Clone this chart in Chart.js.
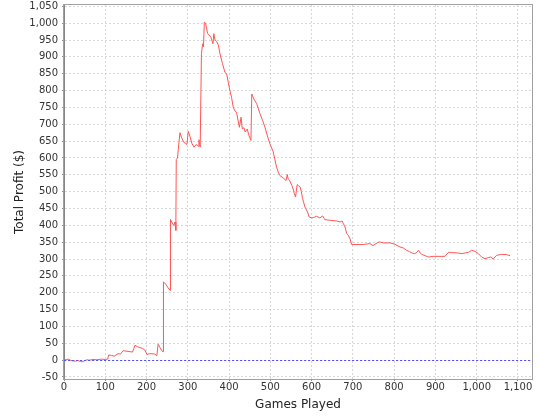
<!DOCTYPE html>
<html>
<head>
<meta charset="utf-8">
<script src="https://cdn.jsdelivr.net/npm/chart.js@4.4.1/dist/chart.umd.min.js"></script>
<style>
  html, body { margin: 0; padding: 0; background: #fff; }
  #wrap { width: 540px; height: 420px; }
</style>
</head>
<body>
<div id="wrap"><canvas id="myChart" width="540" height="420"></canvas></div>
<script>
// games played (x) and running profit (y)
const games = [
  0, 5, 10, 15, 20, 28, 33, 40, 44, 50, 55, 62, 70, 80, 90, 100, 106, 108, 115, 122,
  131, 137, 143, 150, 160, 166, 172, 178, 184, 190, 196, 201, 207, 213, 220, 225, 228, 233, 237, 240,
  241, 247, 252, 257, 258, 262, 266, 269, 271, 272, 275, 278, 281, 285, 290, 295, 298, 301, 305, 310,
  315, 320, 325, 327, 330, 333, 336, 338, 340, 343, 348, 352, 356, 361, 363, 366, 370, 374, 378, 384,
  390, 394, 398, 402, 406, 410, 414, 418, 422, 425, 429, 432, 436, 439, 444, 448, 453, 455, 460, 467,
  475, 481, 487, 493, 499, 507, 511, 515, 519, 523, 531, 538, 541, 543, 546, 552, 556, 558, 561, 565,
  568, 572, 575, 578, 584, 590, 594, 600, 604, 612, 620, 627, 632, 645, 661, 669, 674, 677, 681, 685,
  689, 693, 697, 710, 725, 735, 741, 749, 756, 764, 774, 790, 802, 814, 822, 830, 837, 843, 850, 855,
  859, 863, 867, 875, 883, 895, 911, 923, 931, 943, 955, 964, 972, 980, 988, 996, 1004, 1012, 1020, 1028,
  1034, 1040, 1048, 1060, 1073, 1081
];
const profit = [
  2, 1, 3, 0, -2, -3, -1, -4, -5, -2, 1, 0, 2, 1, 3, 2, 3, 15, 14, 12,
  19, 18, 28, 27, 25, 24, 44, 40, 37, 35, 30, 17, 19, 19, 18, 13, 47, 37, 28, 25,
  232, 225, 215, 207, 418, 407, 400, 410, 385, 595, 600, 640, 675, 660, 647, 643, 640, 679, 665, 643,
  632, 640, 635, 654, 632, 910, 939, 930, 1003, 1000, 969, 965, 958, 939, 969, 950, 946, 935, 909, 880,
  854, 850, 825, 800, 780, 751, 740, 736, 710, 691, 721, 686, 690, 677, 686, 667, 652, 790, 775, 761,
  731, 712, 691, 665, 642, 618, 595, 573, 558, 548, 541, 533, 551, 538, 535, 519, 505, 494, 484, 521,
  518, 514, 500, 480, 454, 440, 425, 422, 423, 427, 422, 428, 417, 415, 413, 410, 413, 405, 395, 375,
  370, 360, 343, 343, 343, 345, 346, 340, 346, 351, 348, 348, 344, 336, 333, 326, 322, 318, 316, 320,
  326, 318, 314, 310, 306, 308, 308, 308, 319, 319, 318, 316, 318, 320, 326, 323, 316, 306, 301, 304,
  306, 300, 311, 314, 313, 310
];
const breakEven = 0;

// tick values shown on the axes
const xTicks = [0, 100, 200, 300, 400, 500, 600, 700, 800, 900, 1000, 1100];
const yTicks = [-50, 0, 50, 100, 150, 200, 250, 300, 350, 400, 450, 500,
  550, 600, 650, 700, 750, 800, 850, 900, 950, 1000, 1050];

const tickFont = { family: 'DejaVu Sans', size: 10 };
const titleFont = { family: 'DejaVu Sans', size: 12 };

// blue dashed break-even marker plus the grey outline round the plot
const plotExtras = {
  id: 'plotExtras',
  afterDatasetsDraw(chart) {
    const { ctx, chartArea: a, scales } = chart;
    const y0 = Math.round(scales.y.getPixelForValue(breakEven)) + 0.5;
    ctx.save();
    ctx.strokeStyle = '#5555ff';
    ctx.lineWidth = 1;
    ctx.setLineDash([2, 2]);
    ctx.beginPath();
    ctx.moveTo(a.left, y0);
    ctx.lineTo(a.right, y0);
    ctx.stroke();
    ctx.setLineDash([]);
    ctx.strokeStyle = '#a0a0a0';
    ctx.strokeRect(a.left - 0.5, a.top - 0.5, a.right - a.left + 1, a.bottom - a.top + 1);
    ctx.restore();
  }
};

const ctx = document.getElementById('myChart').getContext('2d');
new Chart(ctx, {
  type: 'line',
  data: {
    datasets: [{
      label: 'Total Profit',
      data: games.map((g, i) => ({ x: g, y: profit[i] })),
      borderColor: '#ff5555',
      borderWidth: 1,
      pointRadius: 0,
      tension: 0,
      fill: false
    }]
  },
  options: {
    responsive: false,
    animation: false,
    layout: { padding: { top: 5, right: 8, left: 0, bottom: 0 } },
    plugins: { legend: { display: false }, tooltip: { enabled: false } },
    scales: {
      x: {
        type: 'linear',
        min: 0,
        max: 1134,
        afterBuildTicks: s => { s.ticks = xTicks.map(v => ({ value: v })); },
        afterFit: s => { s.height = 41; },
        ticks: {
          autoSkip: false,
          maxRotation: 0,
          color: '#333',
          font: tickFont,
          padding: 0,
          callback: v => v.toLocaleString('en-US')
        },
        grid: { color: '#d8d8d8', tickColor: '#888', tickLength: 2 },
        border: { color: '#888', dash: [2, 2] },
        title: { display: true, text: 'Games Played', color: '#222', font: titleFont, padding: { top: 0, bottom: 8 } }
      },
      y: {
        min: -56,
        max: 1054,
        afterBuildTicks: s => { s.ticks = yTicks.map(v => ({ value: v })); },
        afterFit: s => { s.width = 64; s.paddingTop = 0; s.paddingBottom = 0; },
        ticks: {
          autoSkip: false,
          color: '#333',
          font: tickFont,
          padding: 4,
          callback: v => v.toLocaleString('en-US')
        },
        grid: { color: '#d8d8d8', tickColor: '#888', tickLength: 2 },
        border: { color: '#888', dash: [2, 2] },
        title: { display: true, text: 'Total Profit ($)', color: '#222', font: titleFont, padding: { top: 13, bottom: 0 } }
      }
    }
  },
  plugins: [plotExtras]
});
</script>
</body>
</html>
